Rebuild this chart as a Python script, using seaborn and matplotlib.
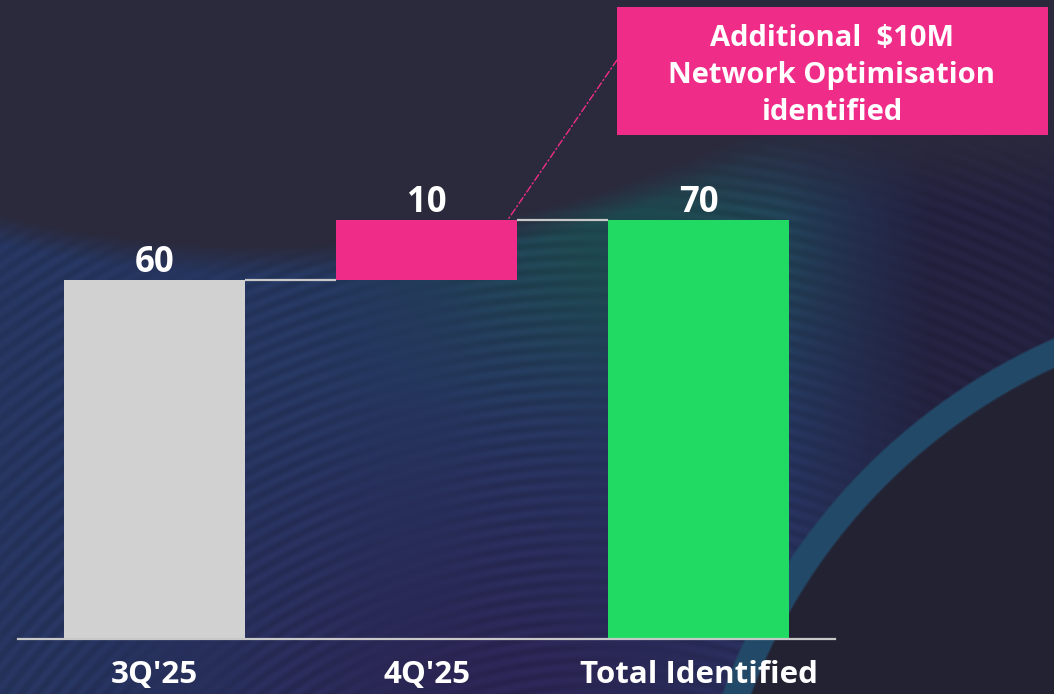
import numpy as np
import pandas as pd
import matplotlib
matplotlib.use("Agg")
import matplotlib.pyplot as plt
import seaborn as sns
from matplotlib.patches import Rectangle

# ---------------- data ----------------
categories = ["3Q'25", "4Q'25", "Total Identified"]
values = [60, 10, 70]
bases = [0, 60, 0]
bar_colors = ["#D1D1D1", "#EF2D88", "#20DA64"]
annotation_lines = ["Additional  \\$10M", "Network Optimisation", "identified"]

df = pd.DataFrame({"category": categories, "value": values, "base": bases})

sns.set_theme(style="white")
plt.rcParams["font.family"] = ["Open Sans", "DejaVu Sans"]

W, H = 1054, 694
PINK = "#EF2D88"

# ---------------- decorative background ----------------
yy, xx = np.mgrid[0:H, 0:W].astype(float)
base = np.array([43, 42, 60]) / 255.0
dA = np.hypot(xx - 260, yy + 827)
mA = np.clip((dA - 1072) / 30, 0, 1)
mTop = np.clip((yy - 120) / 90, 0, 1)
dB = np.hypot(xx - 1300, yy - 900)
mB = np.clip((dB - 585) / 4, 0, 1)
wave = mA * np.maximum(mTop, (xx < 560)) * mB

blue = np.array([40, 57, 102]) / 255.0
teal = np.array([32, 78, 84]) / 255.0
purple = np.array([46, 40, 90]) / 255.0
navy = np.array([38, 36, 68]) / 255.0
gT = np.exp(-(((xx - 640) / 210) ** 2 + ((yy - 240) / 130) ** 2))
gP = np.clip((yy - 380) / 280, 0, 1) * np.exp(-((xx - 500) / 300) ** 2)
gN = np.clip((xx - 780) / 150, 0, 1)
wcol = blue[None, None, :] * 1.0
wcol = wcol * (1 - gT[..., None]) + teal[None, None, :] * gT[..., None]
wcol = wcol * (1 - gP[..., None]) + purple[None, None, :] * gP[..., None]
wcol = wcol * (1 - gN[..., None]) + navy[None, None, :] * gN[..., None]
dS = np.hypot(xx - 600, yy - 1150)
stripe = 0.93 + 0.07 * np.sin(2 * np.pi * dS / 13.0) * (0.6 + 0.4 * np.sin(xx / 37.0))
img = base[None, None, :] * (1 - wave[..., None]) + (wcol * stripe[..., None]) * wave[..., None]
band = np.clip((15 - np.abs(dB - 600)) / 2.5, 0, 1)
bandcol = np.array([34, 74, 104]) / 255.0
img = img * (1 - band[..., None]) + bandcol[None, None, :] * band[..., None]
dark_br = np.array([35, 34, 50]) / 255.0
inner = np.clip((588 - dB) / 3, 0, 1)
img = img * (1 - inner[..., None]) + dark_br[None, None, :] * inner[..., None]
img = np.clip(img, 0, 1)

fig = plt.figure(figsize=(W / 100, H / 100), dpi=100)
bg = fig.add_axes([0, 0, 1, 1])
bg.imshow(img, aspect="auto", interpolation="bilinear")
bg.axis("off")
bg.set_zorder(-10)

# ---------------- chart ----------------
ax = fig.add_axes([18 / W, 55 / H, 817 / W, 598 / H])
ax.set_facecolor("none")
bar_w = 0.665
sns.barplot(data=df, x="category", y="value", hue="category", palette=bar_colors,
            width=bar_w, saturation=1, legend=False, ax=ax)
for patch, b in zip(ax.patches, bases):
    patch.set_y(b)
    patch.set_edgecolor("none")

ax.set_xlim(-0.5, 2.5)
ax.set_ylim(0, 100)

# connectors
for i in range(len(values) - 1):
    top = bases[i] + values[i]
    ax.plot([i + bar_w / 2, i + 1 - bar_w / 2], [top, top], color="#C8C8C8", lw=1.6,
            solid_capstyle="butt")

# value labels
for i, (v, b) in enumerate(zip(values, bases)):
    ax.text(i, b + v + 1.35, str(v), ha="center", va="baseline", fontsize=25,
            fontweight="bold", color="white")

# axes styling
for s in ["top", "right", "left"]:
    ax.spines[s].set_visible(False)
ax.spines["bottom"].set_color("#C8C8C8")
ax.spines["bottom"].set_linewidth(1.6)
ax.set_yticks([])
ax.set_xlabel("")
ax.set_ylabel("")
ax.tick_params(axis="x", length=0, pad=15, labelsize=22.5, labelcolor="white")
for lbl in ax.get_xticklabels():
    lbl.set_fontweight("bold")
    lbl.set_fontstretch("condensed")
    lbl.set_family(["Open Sans", "DejaVu Sans"])

# annotation box
fig.patches.append(Rectangle((617 / W, 1 - 135 / H), (1048 - 617) / W, 128 / H,
                             transform=fig.transFigure, facecolor=PINK,
                             edgecolor="none", zorder=5))
for line, yb in zip(annotation_lines, [46, 83, 120]):
    fig.text(832 / W, 1 - yb / H, line, ha="center", va="baseline", fontsize=21,
             fontweight="bold", color="white", zorder=6)

ax.annotate("", xy=(1.30, 70.2), xycoords="data", xytext=(617, H - 60),
            textcoords="figure pixels",
            arrowprops=dict(arrowstyle="-", color=PINK, lw=1.0,
                            linestyle=(0, (5, 2, 1, 2)), shrinkA=0, shrinkB=0))

fig.savefig("out.png", dpi=100)
